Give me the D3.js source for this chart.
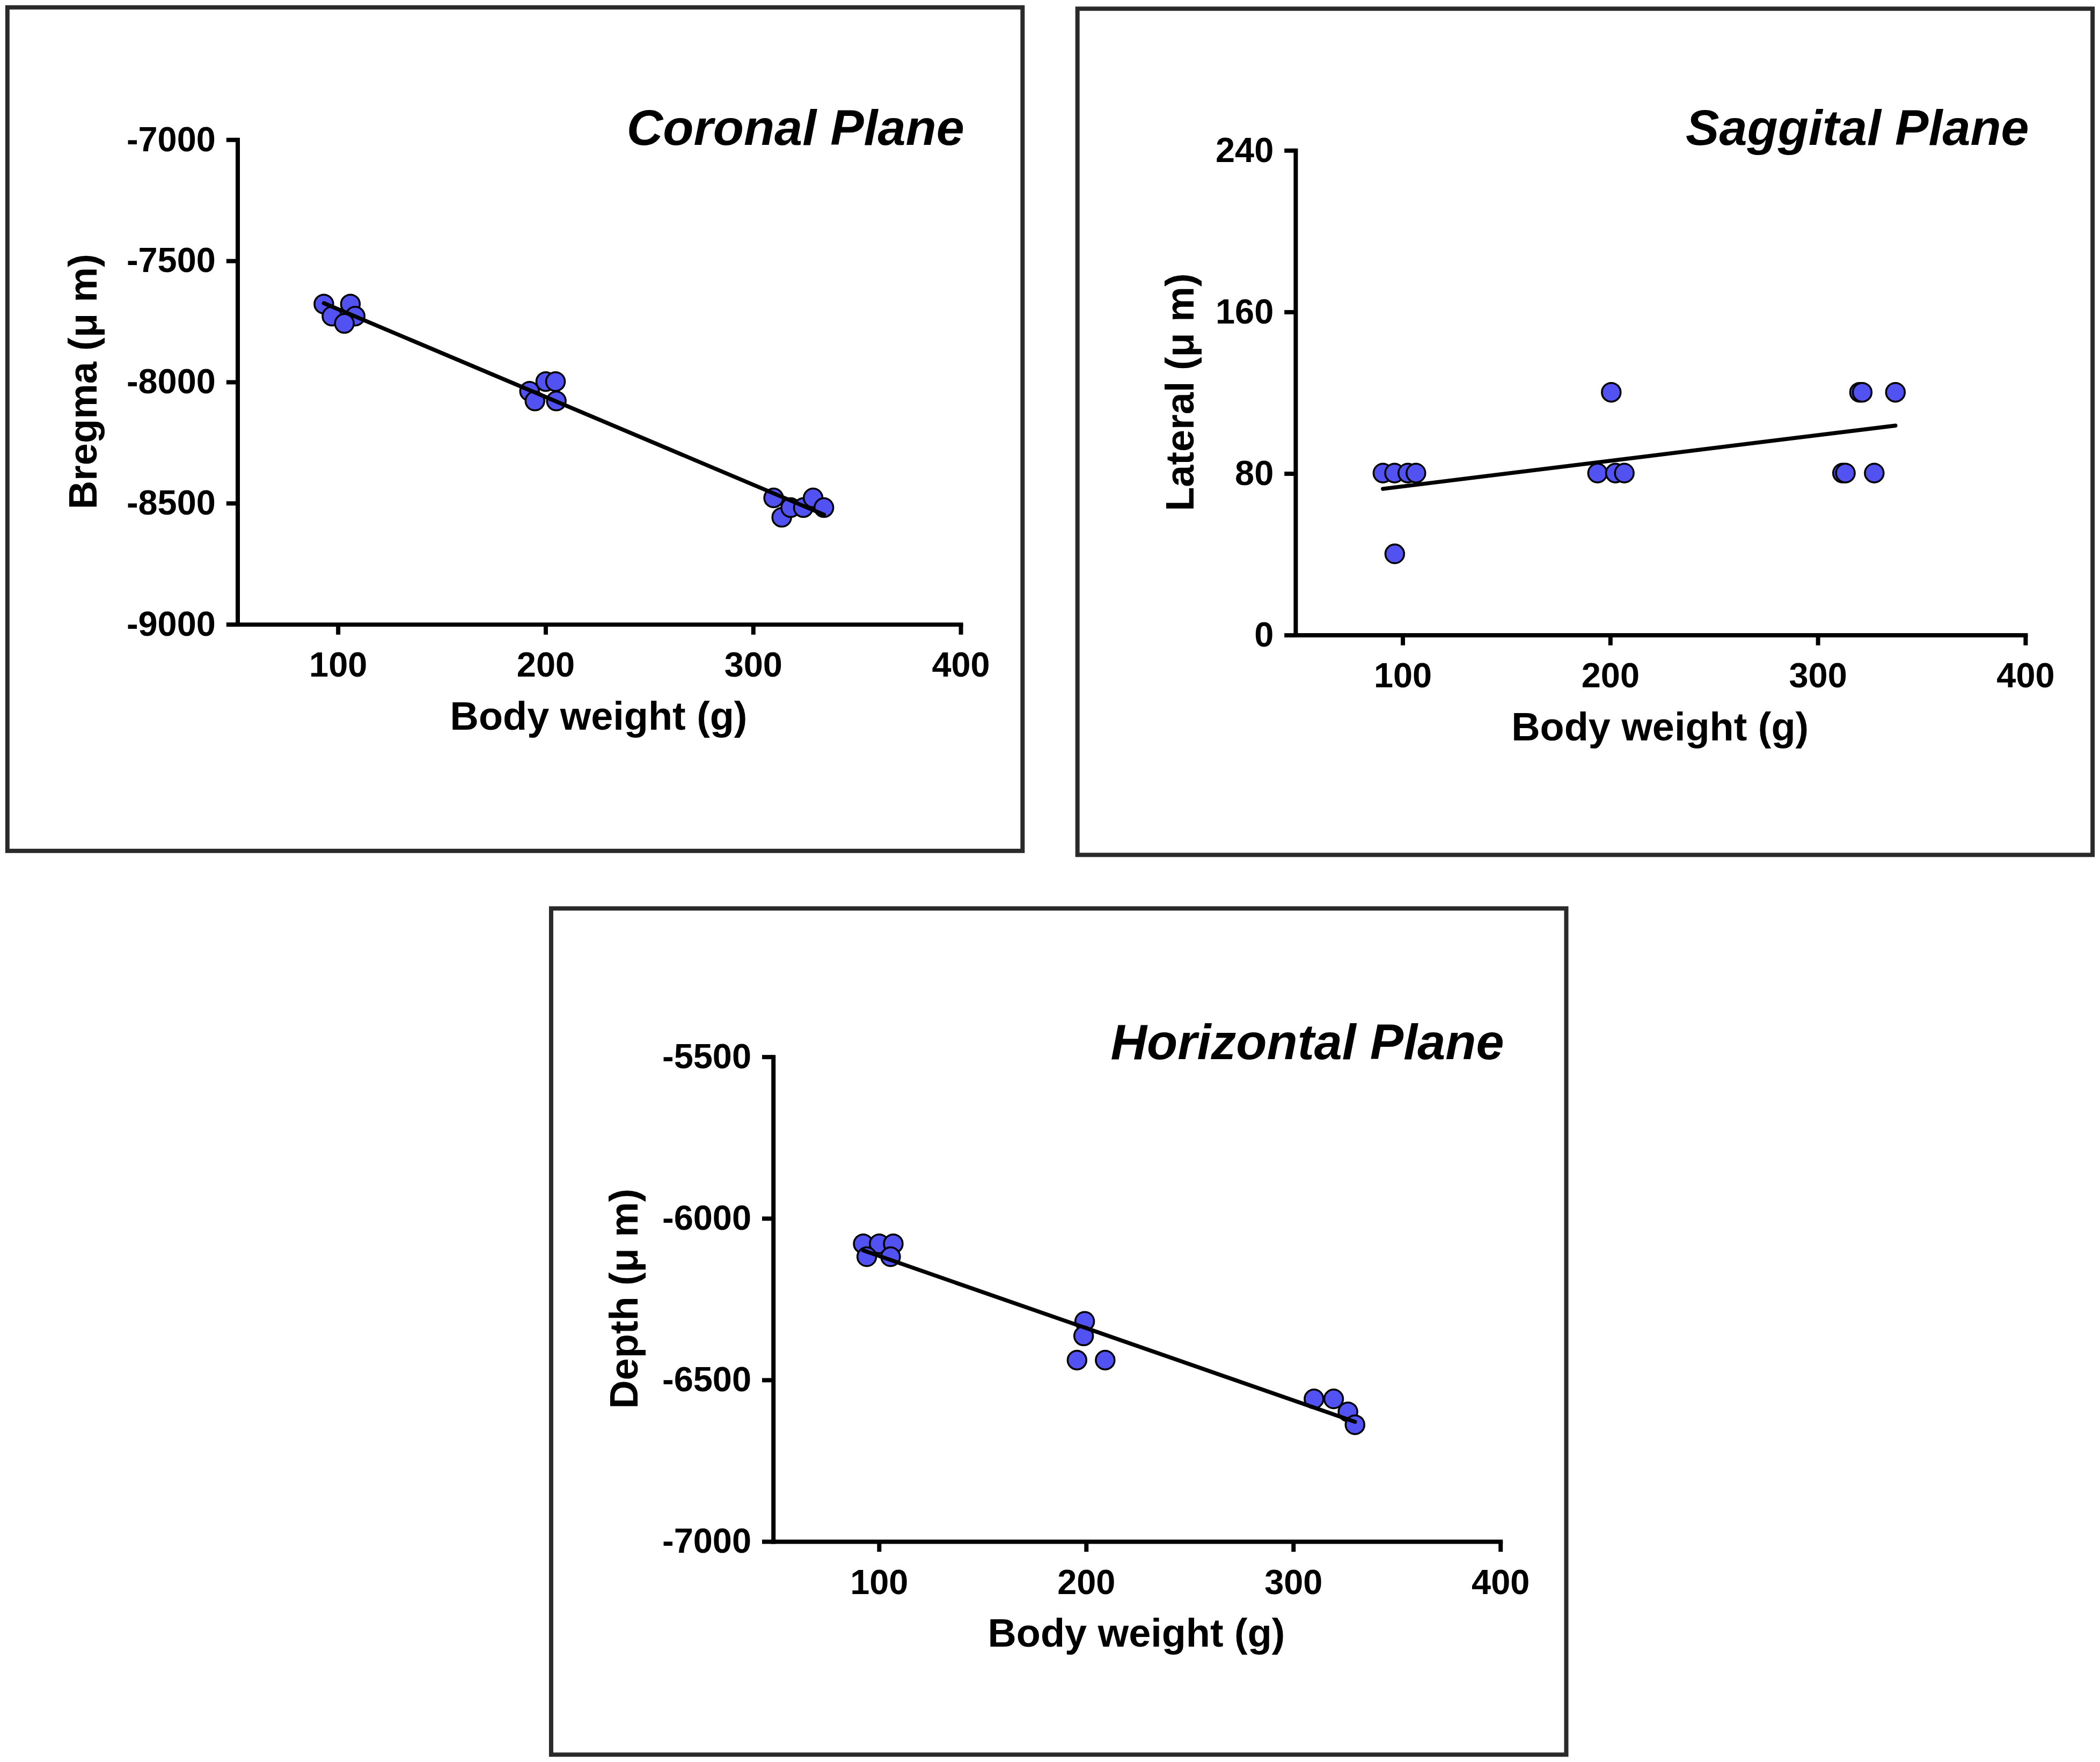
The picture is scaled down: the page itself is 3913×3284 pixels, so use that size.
<!DOCTYPE html>
<html>
<head>
<meta charset="utf-8">
<script src="https://cdn.jsdelivr.net/npm/d3@7"></script>
<style>
  body { margin: 0; background: #fff; }
  svg { display: block; }
  text { font-family: "Liberation Sans", Arial, sans-serif; font-weight: bold; fill: #000; }
</style>
</head>
<body>
<svg id="fig"></svg>
<script>
// data
var weightTicks = [100, 200, 300, 400];

var coronalWeight = [93.4, 97.3, 106.2, 108.5, 103.3, 192.5, 195.1, 200.3, 205, 205.4, 310.1, 314, 318.3, 324.4, 329.1, 334.3];
var coronalBregma = [-7680, -7730, -7680, -7730, -7760, -8040, -8080, -8000, -8000, -8080, -8480, -8560, -8520, -8520, -8480, -8520];
var coronalTicks = [-7000, -7500, -8000, -8500, -9000];

var saggitalWeight = [90.7, 96.3, 102.7, 106.6, 96.4, 200.7, 194.1, 202.7, 207, 320.3, 321.6, 337.6, 312.1, 313.5, 327.4];
var saggitalLateral = [80, 80, 80, 80, 40, 120, 80, 80, 80, 120, 120, 120, 80, 80, 80];
var lateralTicks = [0, 80, 160, 240];

var horizontalWeight = [92.6, 100.3, 107.1, 94.3, 105.8, 199.5, 199, 195.8, 209.4, 310.2, 319.7, 326.6, 330];
var horizontalDepth = [-6080, -6080, -6080, -6120, -6120, -6320, -6365, -6440, -6440, -6560, -6560, -6600, -6640];
var depthTicks = [-5500, -6000, -6500, -7000];

// the picture is laid out on a 1568 x 1316 grid, scaled up to the window
var W = 1568, H = 1316;
var svg = d3.select("#fig")
    .attr("width", 3913)
    .attr("height", 3284)
    .attr("viewBox", "0 0 " + W + " " + H);

svg.append("rect").attr("width", W).attr("height", H).attr("fill", "#fff");

var panels = [
  { box: [5.5, 5.5, 758, 630], ax: 177, top: 104, bottom: 466, x100: 252, x400: 717,
    yDom: [-9000, -7000], yTicks: coronalTicks, xs: coronalWeight, ys: coronalBregma,
    ylab: "Bregma (\u03bc m)", ylabX: 72, title: "Coronal Plane", titleY: 108 },
  { box: [804.5, 6.5, 758, 632], ax: 967, top: 112, bottom: 474, x100: 1047, x400: 1512,
    yDom: [0, 240], yTicks: lateralTicks, xs: saggitalWeight, ys: saggitalLateral,
    ylab: "Lateral (\u03bc m)", ylabX: 891, title: "Saggital Plane", titleY: 108 },
  { box: [411.5, 678.5, 758, 632], ax: 577, top: 789, bottom: 1151, x100: 656, x400: 1120,
    yDom: [-7000, -5500], yTicks: depthTicks, xs: horizontalWeight, ys: horizontalDepth,
    ylab: "Depth (\u03bc m)", ylabX: 476, title: "Horizontal Plane", titleY: 791 }
];

panels.forEach(function(p){
    var g = svg.append("g");

    g.append("rect")
        .attr("x", p.box[0]).attr("y", p.box[1])
        .attr("width", p.box[2]).attr("height", p.box[3])
        .attr("fill", "none")
        .attr("stroke", "#2a2a2a")
        .attr("stroke-width", 3.2);

    // x scale calibrated on the 100 and 400 ticks, then stretched back to the y axis
    var x = d3.scaleLinear().domain([100, 400]).range([p.x100, p.x400]);
    x.domain([x.invert(p.ax), 400]).range([p.ax, p.x400]);
    var y = d3.scaleLinear().domain(p.yDom).range([p.bottom, p.top]);

    var xAxis = g.append("g")
        .attr("transform", "translate(0," + p.bottom + ")")
        .call(d3.axisBottom(x).tickValues(weightTicks).tickSize(8).tickSizeOuter(0)
              .tickPadding(13).tickFormat(String));

    var yAxis = g.append("g")
        .attr("transform", "translate(" + p.ax + ",0)")
        .call(d3.axisLeft(y).tickValues(p.yTicks).tickSize(8).tickSizeOuter(0)
              .tickPadding(8).tickFormat(String));

    [xAxis, yAxis].forEach(function(a){
        a.select(".domain").attr("stroke", "#000").attr("stroke-width", 3.2).attr("stroke-linecap", "square");
        a.selectAll(".tick line").attr("stroke", "#000").attr("stroke-width", 3.2);
        a.selectAll(".tick text")
            .attr("fill", "#000")
            .style("font-size", "26px")
            .style("font-weight", "bold")
            .style("font-family", "'Liberation Sans', Arial, sans-serif");
    });

    // points
    var pts = p.xs.map(function(d, i){ return [d, p.ys[i]]; });
    g.selectAll(".pt")
        .data(pts)
        .enter().append("circle")
        .attr("class", "pt")
        .attr("cx", function(d){ return x(d[0]); })
        .attr("cy", function(d){ return y(d[1]); })
        .attr("r", 7)
        .attr("fill", "#5252f2")
        .attr("stroke", "#000")
        .attr("stroke-width", 1.4);

    // least squares line over the data range
    var mx = d3.mean(p.xs), my = d3.mean(p.ys);
    var sxy = d3.sum(pts, function(d){ return (d[0] - mx) * (d[1] - my); });
    var sxx = d3.sum(pts, function(d){ return (d[0] - mx) * (d[0] - mx); });
    var slope = sxy / sxx, icpt = my - slope * mx;
    var ext = d3.extent(p.xs);
    g.append("path")
        .datum(ext.map(function(v){ return [v, icpt + slope * v]; }))
        .attr("d", d3.line().x(function(d){ return x(d[0]); }).y(function(d){ return y(d[1]); }))
        .attr("stroke", "#000")
        .attr("stroke-width", 3)
        .attr("stroke-linecap", "round")
        .attr("fill", "none");

    // labels
    g.append("text")
        .attr("x", (p.ax + p.x400) / 2)
        .attr("y", p.bottom + 79)
        .attr("text-anchor", "middle")
        .style("font-size", "29.6px")
        .text("Body weight (g)");

    g.append("text")
        .attr("transform", "translate(" + p.ylabX + "," + ((p.top + p.bottom) / 2) + ") rotate(-90)")
        .attr("text-anchor", "middle")
        .style("font-size", "29.6px")
        .text(p.ylab);

    g.append("text")
        .attr("x", p.x400 + 3)
        .attr("y", p.titleY)
        .attr("text-anchor", "end")
        .style("font-size", "37.5px")
        .style("font-style", "italic")
        .text(p.title);
});
</script>
</body>
</html>
